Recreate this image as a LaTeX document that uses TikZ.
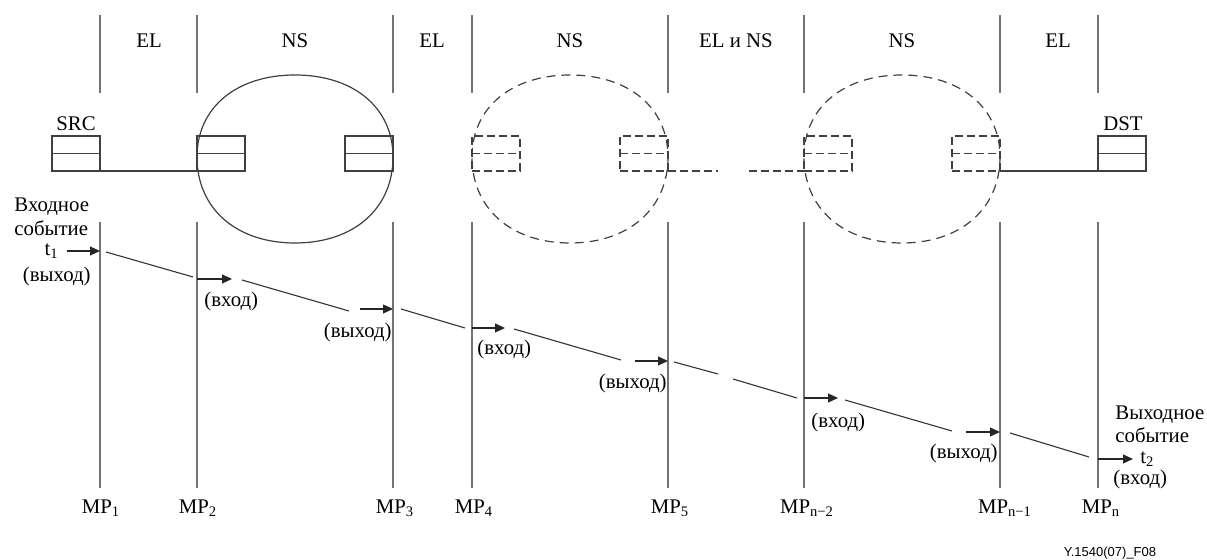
\documentclass[tikz,border=0pt]{standalone}
\usepackage{fontspec}
\setmainfont{Liberation Serif}
\newfontfamily\figsans{Liberation Sans}
\usetikzlibrary{arrows.meta}
\newcommand\nsblob[2]{%
  \draw[#2] ({#1-98},157) .. controls ({#1-98},107.8) and ({#1-58.8},75) .. (#1,75)
    .. controls ({#1+58.8},75) and ({#1+98},107.8) .. ({#1+98},157)
    .. controls ({#1+98},208.6) and ({#1+58.8},243) .. (#1,243)
    .. controls ({#1-58.8},243) and ({#1-98},208.6) .. ({#1-98},157) -- cycle;}
\begin{document}
\begin{tikzpicture}[x=0.5pt,y=-0.5pt,
  vline/.style={draw=black!55, line width=0.7pt},
  tline/.style={draw=black!80, line width=0.55pt},
  outl/.style={draw=black!75, line width=0.6pt},
  dshe/.style={dash pattern=on 4.5pt off 3pt},
  dshb/.style={dash pattern=on 4pt off 2pt},
  qbox/.style={draw=black!75, line width=0.6pt, minimum width=24pt, minimum height=17.5pt, inner sep=0pt, outer sep=0pt},
  evt/.style={draw=black!85, line width=0.6pt, -{Triangle[length=5pt,width=4.5pt]}},
  lbl/.style={font=\fontsize{10.4}{12}\selectfont, inner sep=0pt},
  mp/.style={font=\fontsize{10.4}{12}\selectfont, inner sep=0pt, anchor=base},
]
\useasboundingbox (0,0) rectangle (1207,560);

% measurement point lines
\foreach \n/\x in {1/100,2/197,3/393,4/472,5/668,6/804,7/1000,8/1098} {
  \coordinate (ht\n) at (\x,15);
  \coordinate (hb\n) at (\x,93);
  \coordinate (lt\n) at (\x,222);
  \coordinate (lb\n) at (\x,488);
  \draw[vline] (ht\n) -- (hb\n);
  \draw[vline] (lt\n) -- (lb\n);
}

% section labels
\node[lbl] (sec1) at (149,41) {EL};
\node[lbl] (sec2) at (295,41) {NS};
\node[lbl] (sec3) at (432,41) {EL};
\node[lbl] (sec4) at (570,41) {NS};
\node[lbl] (sec5) at (736,41) {EL и NS};
\node[lbl] (sec6) at (902,41) {NS};
\node[lbl] (sec7) at (1058,41) {EL};

% network sections
\nsblob{295}{outl}
\nsblob{570}{outl,dshe}
\nsblob{902}{outl,dshe}

% protocol boxes
\node[qbox] (src) at (76,153.5) {};
\node[qbox] (n1a) at (221,153.5) {};
\node[qbox] (n1b) at (369,153.5) {};
\node[qbox,dshb] (n2a) at (496,153.5) {};
\node[qbox,dshb] (n2b) at (644,153.5) {};
\node[qbox,dshb] (n3a) at (828,153.5) {};
\node[qbox,dshb] (n3b) at (976,153.5) {};
\node[qbox] (dst) at (1122,153.5) {};
\foreach \b in {src,n1a,n1b,dst} \draw[outl] (\b.west) -- (\b.east);
\foreach \b in {n2a,n2b,n3a,n3b} \draw[outl,dshb] (\b.west) -- (\b.east);
\node[lbl] (srcl) at (76,124) {SRC};
\node[lbl] (dstl) at (1123,124) {DST};

% links
\draw[outl] (src.south east) -- (n1a.south west);
\coordinate (gapL) at (718,171);
\coordinate (gapR) at (749,171);
\draw[outl,dshb] (n2b.south east) -- (gapL);
\draw[outl,dshb] (gapR) -- (n3a.south west);
\draw[outl] (n3b.south east) -- (dst.south west);

% event arrows at measurement points
\foreach \i/\xa/\ya/\xb/\yb in {1/67/251/100/251, 2/197/279/232/279, 3/360/309/393/309,
  4/472/328/505/328, 5/635/361/668/361, 6/804/398/838/398, 7/966/432/1000/432, 8/1098/459/1133/459} {
  \coordinate (ea\i) at (\xa,\ya);
  \coordinate (eb\i) at (\xb,\yb);
  \draw[evt] (ea\i) -- (eb\i);
}
% transfer segments
\foreach \i/\xa/\ya/\xb/\yb in {1/106/252/193/277, 2/242/280/349/311, 3/401/309/465/328,
  4/514/329/621/360, 5/674/362/718/374, 6/733/379/797/398, 7/845/400/952/431, 8/1010/433/1089/457} {
  \coordinate (sa\i) at (\xa,\ya);
  \coordinate (sb\i) at (\xb,\yb);
  \draw[tline] (sa\i) -- (sb\i);
}

% event labels
\node[lbl,anchor=mid west] (in1) at (14,207) {Входное};
\node[lbl,anchor=mid west] (in2) at (14,231) {событие};
\node[lbl,anchor=mid east] (t1) at (59,251) {t\textsubscript{1}};
\node[lbl,anchor=mid east] (o1) at (91,277) {(выход)};
\node[lbl,anchor=mid west] (i2) at (204,302) {(вход)};
\node[lbl,anchor=mid east] (o3) at (392,333) {(выход)};
\node[lbl,anchor=mid west] (i4) at (477,350) {(вход)};
\node[lbl,anchor=mid east] (o5) at (667,384) {(выход)};
\node[lbl,anchor=mid west] (i6) at (811,423) {(вход)};
\node[lbl,anchor=mid east] (o7) at (998,454) {(выход)};
\node[lbl,anchor=mid west] (out1) at (1115,415) {Выходное};
\node[lbl,anchor=mid west] (out2) at (1115,438) {событие};
\node[lbl,anchor=mid west] (t2) at (1140,459) {t\textsubscript{2}};
\node[lbl,anchor=mid west] (i8) at (1113,480) {(вход)};

% measurement point names
\node[mp] (mp1) at (101,514) {MP\textsubscript{1}};
\node[mp] (mp2) at (198,514) {MP\textsubscript{2}};
\node[mp] (mp3) at (395,514) {MP\textsubscript{3}};
\node[mp] (mp4) at (474,514) {MP\textsubscript{4}};
\node[mp] (mp5) at (670,514) {MP\textsubscript{5}};
\node[mp] (mp6) at (807,514) {MP\textsubscript{n−2}};
\node[mp] (mp7) at (1005,514) {MP\textsubscript{n−1}};
\node[mp] (mp8) at (1101,514) {MP\textsubscript{n}};

\node[font=\figsans\fontsize{6.5}{8}\selectfont, inner sep=0pt] (fig) at (1110,553) {Y.1540(07)\_F08};
\end{tikzpicture}
\end{document}
